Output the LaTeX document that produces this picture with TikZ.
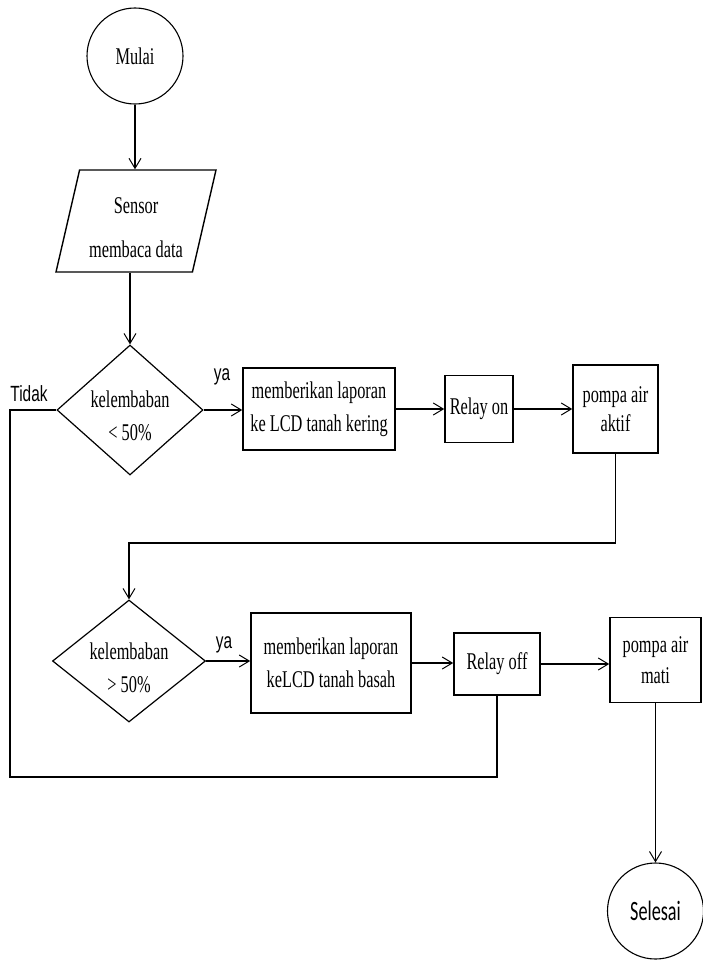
\documentclass[tikz,border=0pt]{standalone}
\usepackage{fontspec}
\usetikzlibrary{shapes.geometric,arrows.meta,calc}
\newfontfamily\serifn[FakeStretch=0.68]{Liberation Serif}
\newfontfamily\sansn[FakeStretch=0.7]{Liberation Sans}
\newfontfamily\calibn[FakeStretch=0.65]{Carlito}
\newcommand{\lowtext}[2]{\raisebox{-#1}[\height][\depth]{\begin{tabular}{@{}c@{}}#2\end{tabular}}}
\newcommand{\lowdtext}[2]{\raisebox{-#1}[18pt][18pt]{\begin{tabular}{@{}c@{}}#2\end{tabular}}}
\begin{document}
\begin{tikzpicture}[x=1pt,y=-1pt,
  serifbody/.style={font=\serifn\fontsize{24}{33}\selectfont},
  term/.style={circle,draw,line width=1.1pt,minimum size=96pt,inner sep=0pt},
  proc/.style={rectangle,draw,line width=1.6pt,inner sep=0pt,align=center,serifbody},
  dec/.style={diamond,draw,line width=1.2pt,inner sep=0pt,align=center,serifbody},
  io/.style={trapezium,trapezium left angle=75,trapezium right angle=105,
    trapezium stretches body,draw,line width=1.4pt,inner sep=0pt,align=center,
    minimum width=160pt,minimum height=102pt,font=\serifn\fontsize{24}{44}\selectfont},
  lab/.style={inner sep=0pt,font=\sansn\fontsize{22}{26}\selectfont},
  conn/.style={line width=1.2pt},
  arr/.style={conn,-{Straight Barb[length=10pt,width=12pt,line width=1pt]}}]
\useasboundingbox (0,0) rectangle (703,966);

% nodes
\node[term,serifbody] (mulai) at (135,56) {Mulai};
\node[io] (sensor) at (136,221) {\lowtext{6pt}{Sensor\\membaca data}};
\node[dec,aspect=1.15,minimum width=146pt,minimum height=130pt] (d1) at (130,410) {\lowdtext{14pt}{kelembaban\\< 50\%}};
\node[proc,minimum width=152pt,minimum height=82pt] (b1) at (319,409) {memberikan laporan\\ke LCD tanah kering};
\node[proc,minimum width=68pt,minimum height=67pt] (r1) at (479,409) {Relay on};
\node[proc,minimum width=85pt,minimum height=88pt,font=\serifn\fontsize{24}{29}\selectfont] (p1) at (615.5,409) {pompa air\\aktif};

\node[dec,aspect=1.25,minimum width=153pt,minimum height=122pt] (d2) at (129,661) {\lowdtext{15pt}{kelembaban\\> 50\%}};
\node[proc,minimum width=160pt,minimum height=100pt] (b2) at (331,663) {memberikan laporan\\keLCD tanah basah};
\node[proc,minimum width=86pt,minimum height=62pt] (r2) at (497,664) {Relay off};
\node[proc,minimum width=91pt,minimum height=85pt,font=\serifn\fontsize{24}{31}\selectfont] (p2) at (655.5,660) {pompa air\\mati};
\node[term,font=\calibn\fontsize{28}{32}\selectfont] (selesai) at (655.5,911) {Selesai};

% labels
\node[lab] (tidak) at (29,394) {Tidak};
\node[lab] (ya1) at (222,377) {ya};
\node[lab] (ya2) at (224,645) {ya};

% helper coordinates
\coordinate (cm) at (129,543);
\coordinate (cb) at (10,777);

% connectors
\draw[arr] (mulai.south) -- (mulai.south |- sensor.north);
\draw[arr] (sensor.south -| d1.north) -- (d1.north);
\draw[arr] (d1.east) -- (d1.east -| b1.west);
\draw[arr] (b1.east) -- (r1.west);
\draw[arr] (r1.east) -- (p1.west);
\draw[arr] (p1.south) -- (p1.south |- cm) -- (cm) -- (d2.north);
\draw[arr] (d2.east) -- (d2.east -| b2.west);
\draw[arr] (b2.east) -- (b2.east -| r2.west);
\draw[arr] (r2.east) -- (r2.east -| p2.west);
\draw[arr] (p2.south) -- (selesai.north);
\draw[conn] (r2.south) -- (r2.south |- cb) -- (cb) -- (cb |- d1.west) -- (d1.west);
\end{tikzpicture}
\end{document}
